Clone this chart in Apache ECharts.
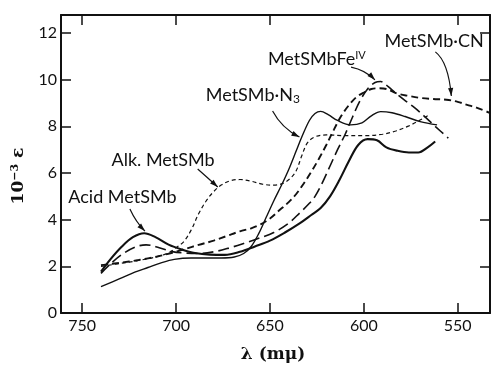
<!DOCTYPE html>
<html>
<head>
<meta charset="utf-8">
<script src="https://cdn.jsdelivr.net/npm/echarts@6/dist/echarts.min.js"></script>
<style>
  html, body { margin: 0; padding: 0; background: #fff; }
  #chart { width: 491px; height: 365px; }
</style>
</head>
<body>
<div id="chart"></div>
<script>
// [wavelength mμ, 10^-3 ε]
const acidMetSMb = [[740,1.77],[735,2.3],[729,2.84],[723,3.25],[717,3.42],[711,3.25],[704,2.93],[697,2.72],[690,2.57],[682,2.5],[674,2.49],[666,2.62],[658,2.85],[650,3.1],[642,3.45],[634,3.85],[628,4.2],[623,4.5],[618,5.0],[613,5.7],[608,6.5],[603,7.2],[598,7.45],[593,7.4],[588,7.1],[582,6.95],[576,6.88],[571,6.88],[566,7.1],[562,7.35]];
const alkMetSMb = [[740,2.0],[730,2.12],[720,2.25],[710,2.42],[704,2.58],[700,2.8],[696,3.05],[692,3.55],[688,4.25],[684,4.8],[680,5.2],[676,5.48],[671,5.67],[666,5.72],[660,5.65],[654,5.52],[648,5.48],[643,5.56],[639,5.78],[636,6.1],[633,6.75],[630,7.3],[626,7.55],[620,7.63],[610,7.6],[600,7.6],[590,7.66],[583,7.8],[576,8.02],[570,8.27],[566,8.45]];
const metSMbN3 = [[740,1.13],[730,1.47],[722,1.75],[715,1.95],[708,2.15],[701,2.3],[692,2.36],[684,2.36],[676,2.36],[669,2.4],[664,2.55],[660,2.85],[656,3.4],[652,4.1],[648,4.8],[644,5.45],[640,6.15],[636,6.95],[633,7.55],[629,8.25],[626,8.55],[623,8.64],[619,8.5],[614,8.25],[607,8.06],[601,8.15],[596,8.45],[591,8.63],[585,8.58],[578,8.42],[570,8.2],[561,8.06]];
const metSMbFeIV = [[740,1.7],[735,2.1],[729,2.5],[722,2.82],[716,2.92],[709,2.8],[702,2.63],[695,2.57],[688,2.55],[680,2.62],[672,2.78],[664,2.98],[656,3.2],[648,3.45],[640,3.85],[634,4.3],[629,4.7],[626,5.0],[622,5.6],[618,6.3],[614,7.0],[610,7.65],[606,8.4],[602,9.1],[598,9.6],[594,9.88],[591,9.92],[587,9.7],[583,9.42],[578,9.1],[573,8.8],[568,8.45],[562,8.0],[555,7.49]];
const metSMbCN = [[740,2.05],[730,2.15],[720,2.27],[710,2.42],[703,2.56],[695,2.75],[688,2.92],[680,3.1],[673,3.3],[666,3.5],[660,3.63],[655,3.8],[650,4.05],[645,4.4],[640,4.75],[636,5.1],[632,5.55],[628,6.05],[624,6.6],[620,7.2],[616,7.85],[612,8.45],[608,8.9],[604,9.25],[600,9.45],[596,9.6],[592,9.63],[588,9.6],[582,9.4],[576,9.3],[570,9.22],[563,9.17],[556,9.14],[550,9.05],[545,8.92],[540,8.8],[533,8.58]];

const xTicks = [750, 700, 650, 600, 550];
const yTicks = [0, 2, 4, 6, 8, 10, 12];

const ink = '#111';
const chart = echarts.init(document.getElementById('chart'));

function frameAxis(pos, ticks, extra) {
    return Object.assign({
        type: 'value',
        position: pos,
        axisLine: { show: true, onZero: false, lineStyle: { color: ink, width: 2 } },
        axisTick: { show: true, inside: true, length: 10, customValues: ticks, lineStyle: { color: ink, width: 1.5 } },
        axisLabel: { show: false },
        splitLine: { show: false }
    }, extra);
}

const tickFont = { color: ink, fontFamily: 'Lato', fontSize: 16 };

const option = {
    animation: false,
    backgroundColor: '#fff',
    grid: { left: 61, right: 1, top: 15, bottom: 52 },
    xAxis: [
        frameAxis('bottom', xTicks, {
            min: 532.8, max: 761.3, inverse: true,
            axisLabel: Object.assign({ show: true, margin: 5, customValues: xTicks }, tickFont)
        }),
        frameAxis('top', xTicks, { min: 532.8, max: 761.3, inverse: true })
    ],
    yAxis: [
        frameAxis('left', yTicks, {
            min: 0, max: 12.77,
            axisLabel: Object.assign({ show: true, margin: 4, customValues: yTicks }, tickFont)
        }),
        frameAxis('right', yTicks, { min: 0, max: 12.77 })
    ],
    series: [
        { name: 'Acid MetSMb', data: acidMetSMb, lineStyle: { width: 2.1, type: 'solid' } },
        { name: 'MetSMb·N3', data: metSMbN3, lineStyle: { width: 1.4, type: 'solid' } },
        { name: 'Alk. MetSMb', data: alkMetSMb, lineStyle: { width: 1.2, type: [4, 3] } },
        { name: 'MetSMb·CN', data: metSMbCN, lineStyle: { width: 1.9, type: [7, 4] } },
        { name: 'MetSMbFeIV', data: metSMbFeIV, lineStyle: { width: 1.6, type: [11, 5] } }
    ].map(s => ({
        type: 'line',
        name: s.name,
        data: s.data,
        smooth: 0.35,
        showSymbol: false,
        silent: true,
        lineStyle: Object.assign({ color: ink }, s.lineStyle)
    }))
};
chart.setOption(option);

// curve labels, placed in data space: text left/middle, arrow start, bend, tip
const notes = [
    { text: 'Acid MetSMb', at: [757.4, 4.95], from: [724.6, 4.46], ctrl: [721.4, 3.9], to: [716.6, 3.51] },
    { text: 'Alk. MetSMb', at: [734.4, 6.56], from: [688.5, 6.17], ctrl: [683.7, 5.83], to: [677.8, 5.4] },
    { text: 'MetSMb·N{sub|3}', at: [684.2, 9.32], from: [648.6, 8.66], ctrl: [643.8, 7.93], to: [634.3, 7.54] },
    { text: 'MetSMbFe{sup|IV}', at: [651.1, 10.87], from: [606.8, 10.54], ctrl: [599.3, 10.42], to: [594.1, 9.99] },
    { text: 'MetSMb·CN', at: [589.0, 11.63], from: [561.9, 11.19], ctrl: [555.0, 10.76], to: [553.4, 9.3] }
];

function toPx(p) {
    return chart.convertToPixel({ xAxisIndex: 0, yAxisIndex: 0 }, p);
}

const graphics = [];
notes.forEach(n => {
    const at = toPx(n.at), a = toPx(n.from), c = toPx(n.ctrl), b = toPx(n.to);
    graphics.push({
        type: 'text', x: at[0], y: at[1], silent: true,
        style: {
            text: n.text, fill: ink, font: '18px Lato',
            align: 'left', verticalAlign: 'middle', textAlign: 'left', textVerticalAlign: 'middle',
            rich: {
                sub: { fontSize: 12, fontFamily: 'Lato', fill: ink, verticalAlign: 'bottom', padding: [8, 0, 0, 0] },
                sup: { fontSize: 11, fontFamily: 'Lato', fill: ink, verticalAlign: 'top', padding: [0, 0, 8, 0] }
            }
        }
    });
    graphics.push({
        type: 'bezierCurve', silent: true,
        shape: { x1: a[0], y1: a[1], cpx1: c[0], cpy1: c[1], x2: b[0], y2: b[1] },
        style: { stroke: ink, lineWidth: 1.2, fill: null }
    });
    // arrow head along the end tangent
    let dx = b[0] - c[0], dy = b[1] - c[1];
    const len = Math.sqrt(dx * dx + dy * dy) || 1;
    dx /= len; dy /= len;
    const L = 8, W = 2.6;
    graphics.push({
        type: 'polygon', silent: true,
        shape: { points: [
            [b[0], b[1]],
            [b[0] - L * dx + W * dy, b[1] - L * dy - W * dx],
            [b[0] - L * dx - W * dy, b[1] - L * dy + W * dx]
        ] },
        style: { fill: ink }
    });
});

// axis titles
graphics.push({
    type: 'text', x: 19, y: 176, rotation: Math.PI / 2, silent: true,
    style: {
        text: '10{sup|−3} ε', fill: ink, font: 'bold 17px "DejaVu Serif"',
        align: 'center', verticalAlign: 'middle', textAlign: 'center', textVerticalAlign: 'middle',
        rich: { sup: { fontSize: 11, fontWeight: 'bold', fontFamily: 'DejaVu Serif', fill: ink, verticalAlign: 'top', padding: [0, 0, 7, 0] } }
    }
});
graphics.push({
    type: 'text', x: 273, y: 355, silent: true,
    style: {
        text: 'λ (mμ)', fill: ink, font: 'bold 17px "DejaVu Serif"',
        align: 'center', verticalAlign: 'middle', textAlign: 'center', textVerticalAlign: 'middle'
    }
});

chart.setOption({ graphic: graphics });
</script>
</body>
</html>
